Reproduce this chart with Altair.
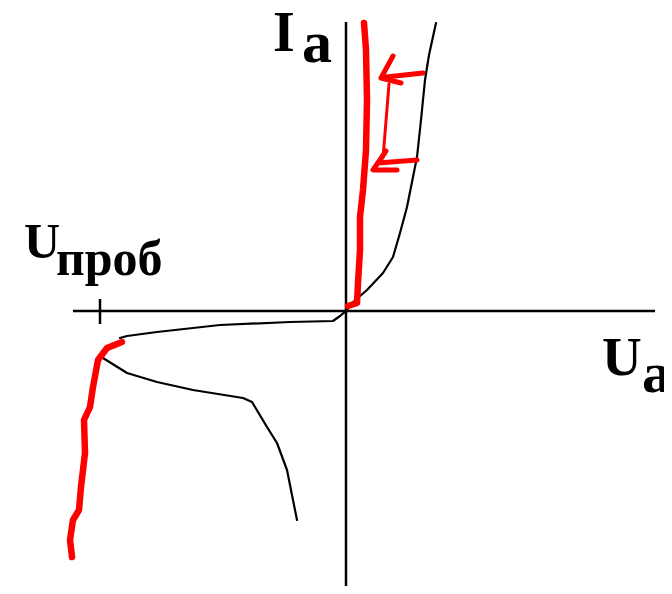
import altair as alt
import pandas as pd

# ---- curve points (picture coordinates: x to the right, y downward) ----
# axes
axis_u_x = [73, 655]
axis_u_y = [311, 311]
axis_i_x = [346, 346]
axis_i_y = [22, 594]
tick_x = [100, 100]
tick_y = [299, 324]

# forward branch (black, thin)
fwd_x = [346, 352, 367, 383, 393, 400, 407, 413, 417, 421, 425, 429, 436]
fwd_y = [311, 303, 290, 273, 257, 233, 207, 177, 157, 120, 80, 55, 23]

# reverse leakage branch (black, thin)
rev1_x = [346, 340, 333, 290, 220, 157, 127, 120]
rev1_y = [311, 316, 321, 322, 325, 332, 336, 338]

# reverse branch, heated (black, thin)
rev2_x = [103, 127, 157, 193, 243, 252, 267, 277, 287, 297]
rev2_y = [358, 373, 382, 390, 398, 402, 427, 443, 470, 520]

# red forward curve
redf_x = [348, 357, 358, 360, 360, 363, 366, 367, 366, 364]
redf_y = [306, 303, 283, 250, 217, 190, 150, 100, 50, 23]

# red breakdown curve
redr_x = [122, 107, 98, 93, 90, 84, 85, 81, 79, 73, 70, 72]
redr_y = [342, 348, 360, 387, 407, 420, 453, 487, 510, 520, 540, 557]

# red arrows (shaft + two barbs each)
arr_segs = {
    "a1_shaft": ([423, 386], [73, 77]),
    "a1_head": ([393, 381, 401], [56, 78, 83]),
    "a2_shaft": ([417, 378], [160, 163]),
    "a2_head": ([386, 373, 397], [151, 170, 170]),
}
link_x = [389, 383]
link_y = [84, 158]

# labels
lab_text = ["I", "a", "U", "проб", "U", "a"]
lab_x = [273, 302, 24, 56, 602, 642]
lab_y = [51, 62, 258, 275, 375, 392]
lab_fs = [56, 60, 50, 50, 55, 58]


def seg_df(name, xs, ys):
    return pd.DataFrame({"x": xs, "y": ys, "seg": name, "ord": range(len(xs))})


axes_df = pd.concat([
    seg_df("u", axis_u_x, axis_u_y),
    seg_df("i", axis_i_x, axis_i_y),
    seg_df("tick", tick_x, tick_y),
])
black_df = pd.concat([
    seg_df("fwd", fwd_x, fwd_y),
    seg_df("rev1", rev1_x, rev1_y),
    seg_df("rev2", rev2_x, rev2_y),
])
red_df = pd.concat([
    seg_df("redf", redf_x, redf_y),
    seg_df("redr", redr_x, redr_y),
])
arrow_df = pd.concat([seg_df(k, v[0], v[1]) for k, v in arr_segs.items()])
link_df = seg_df("link", link_x, link_y)
lab_df = pd.DataFrame({"t": lab_text, "x": lab_x, "y": lab_y, "fs": lab_fs})

xs = alt.Scale(domain=[8, 664], nice=False, zero=False)
ys = alt.Scale(domain=[8, 586], nice=False, zero=False, reverse=True)


def lines(df, color, width, cap="round"):
    return alt.Chart(df).mark_line(
        color=color, strokeWidth=width, strokeCap=cap, strokeJoin="round", clip=True
    ).encode(
        x=alt.X("x:Q", scale=xs, axis=None),
        y=alt.Y("y:Q", scale=ys, axis=None),
        detail="seg:N",
        order="ord:Q",
    )


labels = alt.Chart(lab_df).mark_text(
    font="Liberation Serif", fontWeight="bold", align="left", baseline="alphabetic",
    color="black"
).encode(
    x=alt.X("x:Q", scale=xs, axis=None),
    y=alt.Y("y:Q", scale=ys, axis=None),
    text="t:N",
    size=alt.Size("fs:Q", scale=None, legend=None),
)

chart = alt.layer(
    lines(axes_df, "black", 2.5, cap="butt"),
    lines(black_df, "black", 2.2),
    lines(link_df, "#ff0000", 3),
    lines(arrow_df, "#ff0000", 5),
    lines(red_df, "#ff0000", 6.5),
    labels,
).properties(
    width=656, height=578, padding=0, background="white",
    autosize=alt.AutoSizeParams(type="none"),
).configure_view(stroke=None)

chart.save("out.html", embed_options={"renderer": "svg", "actions": False})
